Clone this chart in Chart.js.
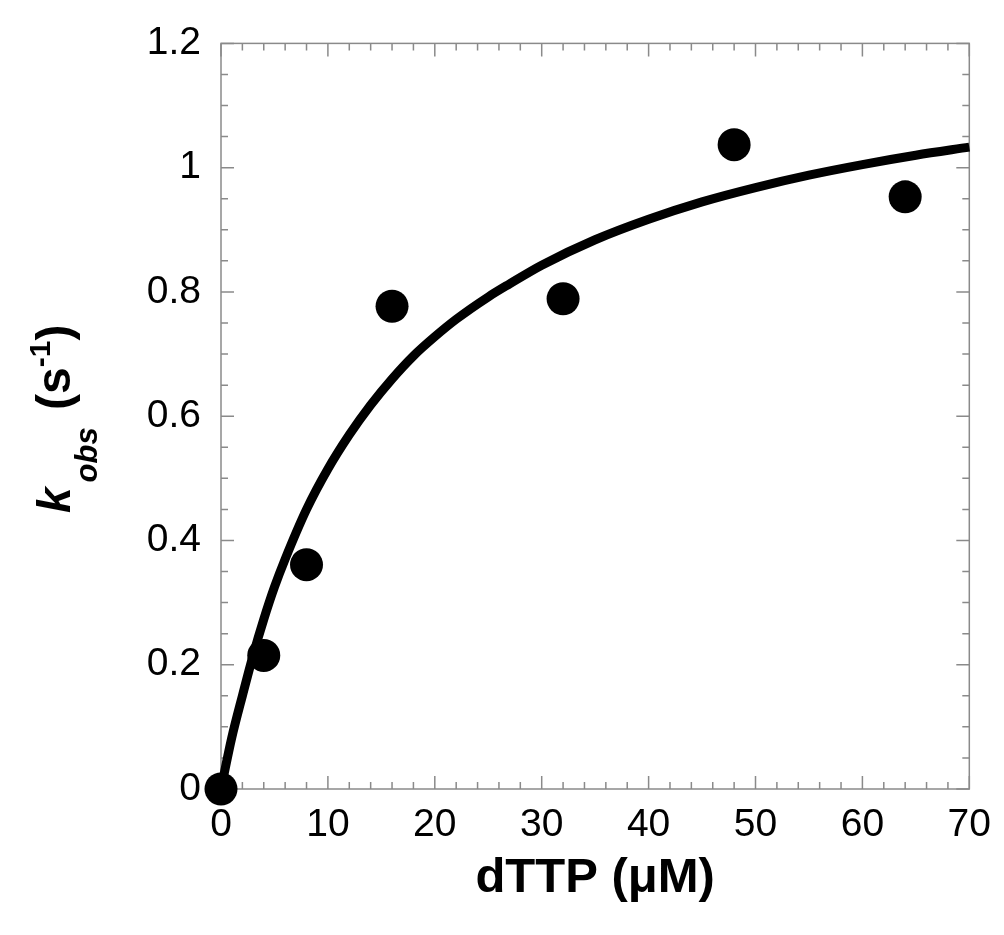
<!DOCTYPE html>
<html>
<head>
<meta charset="utf-8">
<script src="https://cdn.jsdelivr.net/npm/chart.js@4.4.1/dist/chart.umd.min.js"></script>
<style>
  body { margin: 0; background: #fff; }
  canvas { display: block; }
</style>
</head>
<body>
<canvas id="kobsChart" width="1004" height="935"></canvas>
<script>
// measured points
var dttp = [0, 4, 8, 16, 32, 48, 64];
var kobs = [0, 0.215, 0.361, 0.777, 0.789, 1.037, 0.953];

// fitted curve
var fitX = [0, 1, 2, 3, 4, 5, 6, 8, 10, 12, 14, 16, 18, 20, 22, 25, 27, 30, 35, 40, 45, 50, 55, 60, 65, 70];
var fitY = [0, 0.082, 0.150, 0.215, 0.273, 0.325, 0.370, 0.450, 0.515, 0.570, 0.618, 0.660, 0.697, 0.728,
            0.756, 0.792, 0.813, 0.843, 0.884, 0.917, 0.945, 0.968, 0.988, 1.005, 1.020, 1.033];

var xTicks = [0, 10, 20, 30, 40, 50, 60, 70];
var xTickLabels = ['0', '10', '20', '30', '40', '50', '60', '70'];
var yTicks = [0, 0.2, 0.4, 0.6, 0.8, 1, 1.2];
var yTickLabels = ['0', '0.2', '0.4', '0.6', '0.8', '1', '1.2'];
var xMinorStep = 2;
var yMinorStep = 0.05;

var FONT = "'Liberation Sans', Arial, Helvetica, sans-serif";

function pts(xs, ys) {
    return xs.map(function(x, i) { return {x: x, y: ys[i]}; });
}

// frame with inward ticks on all four sides, plus the axis titles
var framePlugin = {
    id: 'frame',
    beforeDatasetsDraw: function(chart) {
        var ctx = chart.ctx, a = chart.chartArea;
        var xs = chart.scales.x, ys = chart.scales.y;
        ctx.save();
        ctx.strokeStyle = '#8a8a8a';
        ctx.lineWidth = 1.5;
        ctx.strokeRect(a.left, a.top, a.right - a.left, a.bottom - a.top);
        ctx.beginPath();
        var v, p, len;
        for (v = xs.min; v <= xs.max + 1e-9; v += xMinorStep) {
            p = xs.getPixelForValue(v);
            len = (Math.abs(v / 10 - Math.round(v / 10)) < 1e-6) ? 13 : 7;
            ctx.moveTo(p, a.bottom); ctx.lineTo(p, a.bottom - len);
            ctx.moveTo(p, a.top); ctx.lineTo(p, a.top + len);
        }
        for (v = ys.min; v <= ys.max + 1e-9; v += yMinorStep) {
            p = ys.getPixelForValue(v);
            len = (Math.abs(v / 0.2 - Math.round(v / 0.2)) < 1e-6) ? 13 : 7;
            ctx.moveTo(a.left, p); ctx.lineTo(a.left + len, p);
            ctx.moveTo(a.right, p); ctx.lineTo(a.right - len, p);
        }
        ctx.stroke();
        ctx.restore();
    },
    afterDraw: function(chart) {
        var ctx = chart.ctx, a = chart.chartArea;
        ctx.save();
        ctx.fillStyle = '#000';
        ctx.textBaseline = 'alphabetic';

        // x title
        ctx.textAlign = 'center';
        ctx.font = 'bold 49px ' + FONT;
        ctx.fillText('dTTP (\u03bcM)', (a.left + a.right) / 2, 892);

        // y title, rotated, with sub/superscripts
        ctx.translate(70, 513);
        ctx.rotate(-Math.PI / 2);
        ctx.textAlign = 'left';
        var parts = [
            {t: 'k', f: 'italic bold 46px ', dy: 0, gap: 5},
            {t: 'obs', f: 'italic bold 31px ', dy: 27, gap: 4},
            {t: ' (s', f: 'bold 48px ', dy: 0, gap: 0},
            {t: '-1', f: 'bold 30px ', dy: -20, gap: 0},
            {t: ')', f: 'bold 48px ', dy: 0, gap: 0}
        ];
        var u = 0;
        parts.forEach(function(pt) {
            ctx.font = pt.f + FONT;
            ctx.fillText(pt.t, u, pt.dy);
            u += ctx.measureText(pt.t).width + pt.gap;
        });
        ctx.restore();
    }
};

var chart = new Chart(document.getElementById('kobsChart'), {
    type: 'scatter',
    data: {
        datasets: [{
            type: 'line',
            data: pts(fitX, fitY),
            borderColor: '#000',
            borderWidth: 9,
            pointRadius: 0,
            fill: false,
            cubicInterpolationMode: 'monotone',
            clip: false,
            order: 2
        }, {
            data: pts(dttp, kobs),
            backgroundColor: '#000',
            borderWidth: 0,
            pointRadius: 16.5,
            clip: false,
            order: 1
        }]
    },
    options: {
        responsive: false,
        animation: false,
        layout: { padding: { top: 40, right: 33, left: 0, bottom: 0 } },
        plugins: {
            legend: { display: false },
            tooltip: { enabled: false }
        },
        scales: {
            x: {
                type: 'linear',
                min: 0,
                max: 70,
                grid: { display: false, drawTicks: false },
                border: { display: false },
                afterBuildTicks: function(scale) {
                    scale.ticks = xTicks.map(function(v) { return {value: v}; });
                },
                afterFit: function(scale) { scale.height = 146; },
                ticks: {
                    color: '#000',
                    padding: 13,
                    font: { family: FONT, size: 39 },
                    callback: function(v, i) { return xTickLabels[i]; }
                }
            },
            y: {
                type: 'linear',
                min: 0,
                max: 1.2,
                grid: { display: false, drawTicks: false },
                border: { display: false },
                afterBuildTicks: function(scale) {
                    scale.ticks = yTicks.map(function(v) { return {value: v}; });
                },
                afterFit: function(scale) { scale.width = 221; },
                ticks: {
                    color: '#000',
                    padding: 20,
                    font: { family: FONT, size: 39 },
                    callback: function(v, i) { return yTickLabels[i]; }
                }
            }
        }
    },
    plugins: [framePlugin]
});
</script>
</body>
</html>
